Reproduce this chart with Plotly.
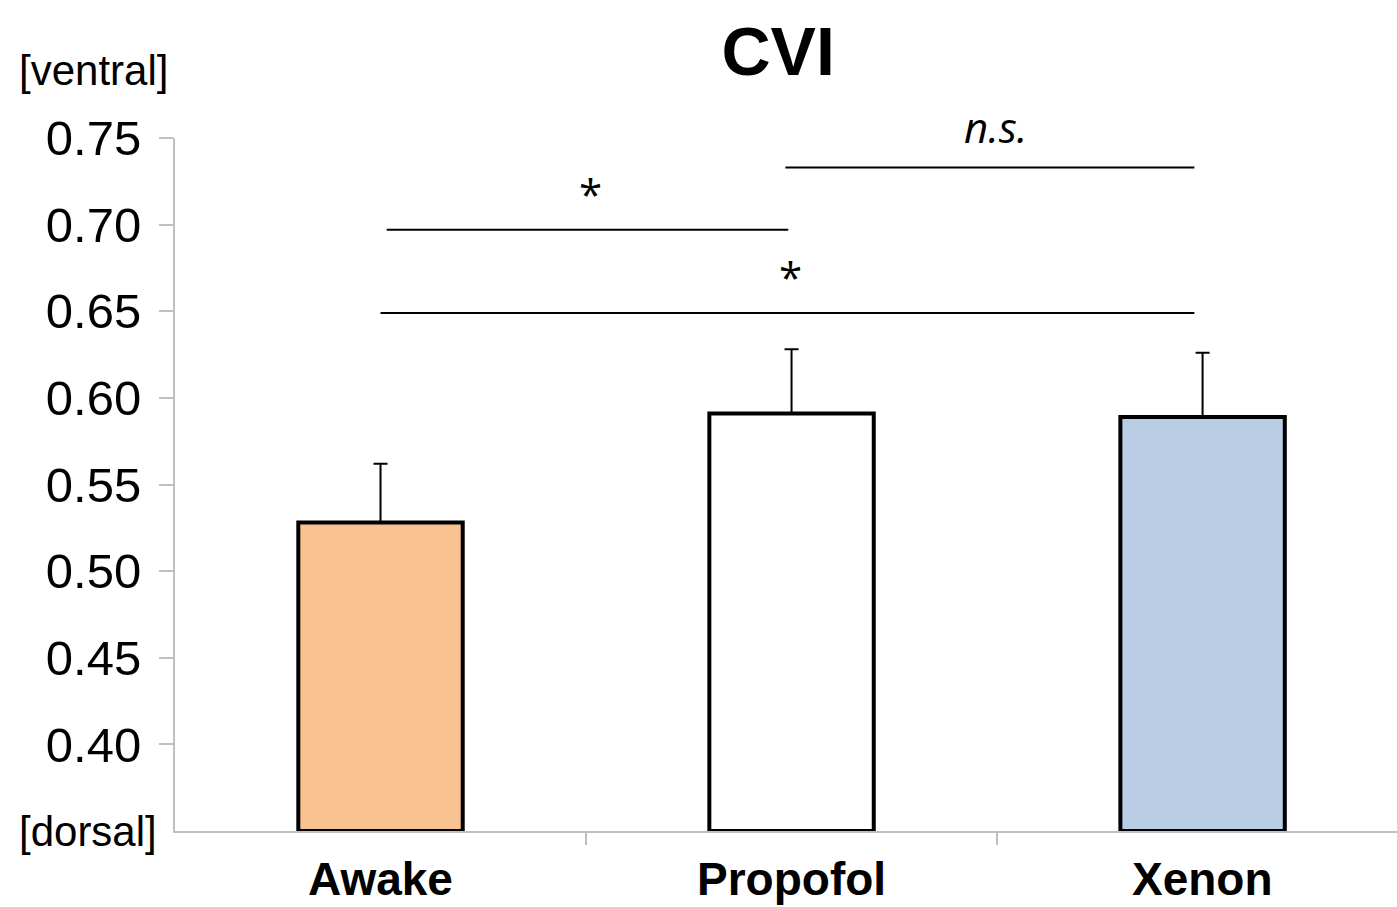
import plotly.graph_objects as go

categories = ["Awake", "Propofol", "Xenon"]
means = [0.528, 0.591, 0.589]
errors = [0.034, 0.037, 0.037]
colors = ["#F9C291", "#FFFFFF", "#B9CDE5"]
y_ticks = [0.40, 0.45, 0.50, 0.55, 0.60, 0.65, 0.70, 0.75]
y_tick_labels = ["0.40", "0.45", "0.50", "0.55", "0.60", "0.65", "0.70", "0.75"]
base_value = 0.35
top_value = 0.75

# significance brackets: (from idx, to idx, level, label)
sig_pairs = [(0, 1, 0.697, "*"), (0, 2, 0.649, "*"), (1, 2, 0.733, "n.s.")]

xs = list(range(len(categories)))
fig = go.Figure()
fig.add_trace(go.Bar(
    x=xs, y=[m - base_value for m in means], base=base_value,
    width=0.4,
    marker=dict(color=colors, line=dict(color="black", width=4)),
    error_y=dict(type="data", array=errors, arrayminus=[0] * 3, symmetric=False,
                 color="black", thickness=2, width=7),
    hovertext=categories,
))

for a, b, lvl, lab in sig_pairs:
    if a == 0 and b == 1:
        x0, x1 = a + 0.015, b - 0.008
    elif a == 0:
        x0, x1 = a, b - 0.02
    else:
        x0, x1 = a - 0.015, b - 0.02
    fig.add_shape(type="line", x0=x0, x1=x1, y0=lvl, y1=lvl, xref="x", yref="y",
                  line=dict(color="black", width=2))
    italic = lab != "*"
    fig.add_annotation(x=(x0 + x1) / 2, y=lvl, xref="x", yref="y",
                       text=("<i>" + lab + "</i>") if italic else lab,
                       showarrow=False, yanchor="bottom",
                       xshift=(6 if italic else 3), yshift=(10 if italic else 6),
                       font=dict(family="Open Sans, Carlito, sans-serif",
                                 size=(42 if italic else 42), color="black"))

fig.add_annotation(text="[dorsal]", x=0, y=base_value, xref="paper", yref="y",
                   xanchor="right", xshift=-16, yanchor="middle", showarrow=False,
                   font=dict(family="Liberation Sans, Arial", size=42, color="black"))
fig.add_annotation(text="[ventral]", x=0, y=1, xref="paper", yref="paper",
                   xanchor="right", xshift=-5, yanchor="bottom", yshift=42, showarrow=False,
                   font=dict(family="Liberation Sans, Arial", size=42, color="black"))

for i, c in enumerate(categories):
    fig.add_annotation(text="<b>" + c + "</b>", x=i, y=0, xref="x", yref="paper",
                       yanchor="bottom", yshift=-76, showarrow=False,
                       font=dict(family="Liberation Sans, Arial", size=46, color="black"))

fig.update_layout(
    width=1397, height=907,
    margin=dict(l=175, r=0, t=138, b=76),
    plot_bgcolor="white", paper_bgcolor="white",
    showlegend=False,
    title=dict(text="<b>CVI</b>", x=0.557, xanchor="center", y=0.944, yanchor="middle",
               font=dict(family="Liberation Sans, Arial", size=68, color="black")),
    font=dict(family="Liberation Sans, Arial", color="black"),
)
fig.update_xaxes(range=[-0.5, 2.473], showgrid=False, zeroline=False,
                 showline=True, linecolor="#BFBFBF", linewidth=2,
                 tickvals=[0.5, 1.5], ticktext=["", ""], ticks="outside",
                 ticklen=12, tickcolor="#BFBFBF", tickwidth=2)
fig.update_yaxes(range=[base_value, top_value], showgrid=False, zeroline=False,
                 showline=True, linecolor="#BFBFBF", linewidth=2,
                 tickvals=y_ticks, ticktext=y_tick_labels, ticks="outside",
                 ticklen=14, tickcolor="#BFBFBF", tickwidth=2, ticklabelstandoff=8,
                 tickfont=dict(family="Liberation Sans, Arial", size=49, color="black"))

fig.write_html("out.html")
